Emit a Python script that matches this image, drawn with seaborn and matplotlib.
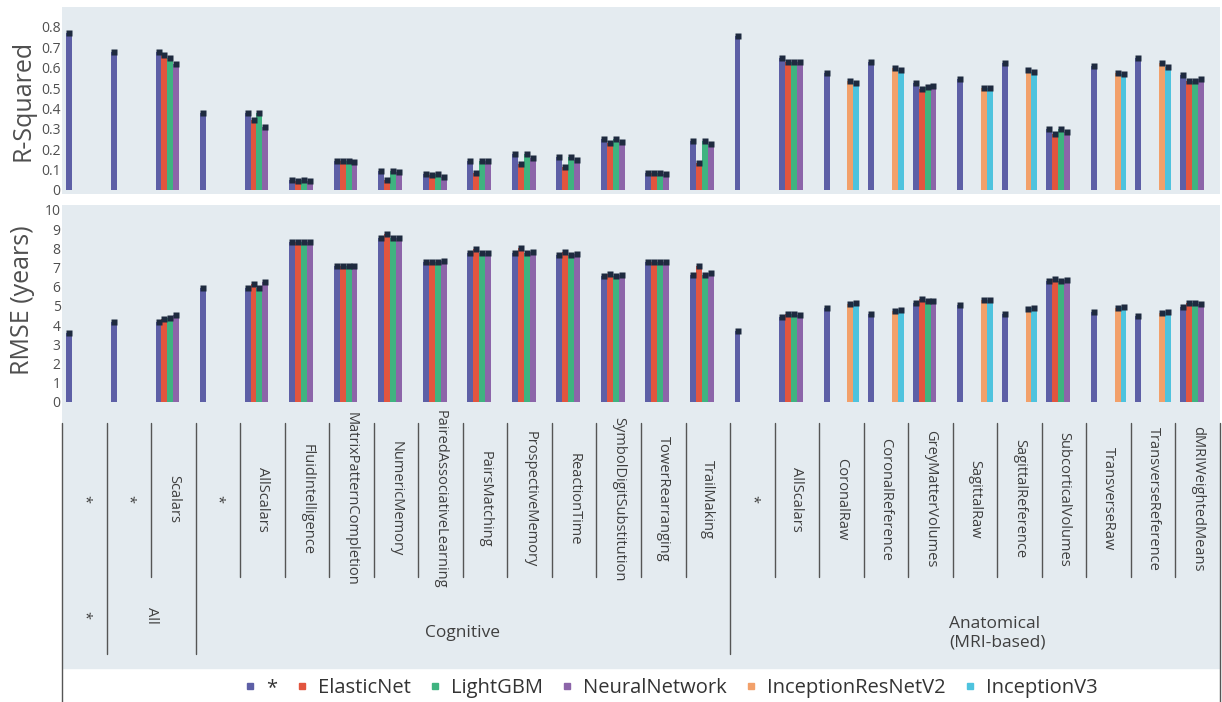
import numpy as np
import pandas as pd
import matplotlib
matplotlib.use("Agg")
import matplotlib.pyplot as plt
from matplotlib.lines import Line2D
import seaborn as sns

N = None

MODELS = ["*", "ElasticNet", "LightGBM", "NeuralNetwork", "InceptionResNetV2", "InceptionV3"]
COLORS = {
    "*": "#5d5fa6",
    "ElasticNet": "#e2553f",
    "LightGBM": "#3fb380",
    "NeuralNetwork": "#8c65a9",
    "InceptionResNetV2": "#f2a06a",
    "InceptionV3": "#4ec3de",
}

# inner level of the category axis
inner_labels = ["*", "*", "Scalars", "*", "AllScalars", "FluidIntelligence",
                "MatrixPatternCompletion", "NumericMemory", "PairedAssociativeLearning",
                "PairsMatching", "ProspectiveMemory", "ReactionTime",
                "SymbolDigitSubstitution", "TowerRearranging", "TrailMaking",
                "*", "AllScalars", "CoronalRaw", "CoronalReference", "GreyMatterVolumes",
                "SagittalRaw", "SagittalReference", "SubcorticalVolumes", "TransverseRaw",
                "TransverseReference", "dMRIWeightedMeans"]
# outer level: (label, first index, last index)
outer_groups = [("*", 0, 0), ("All", 1, 2), ("Cognitive", 3, 14),
                ("Anatomical\n(MRI-based)", 15, 25)]

r2_star = [0.77, 0.676, 0.676, 0.38, 0.38, 0.05, 0.14, 0.095, 0.078, 0.14, 0.176, 0.16, 0.25,
           0.085, 0.242, 0.756, 0.65, 0.572, 0.63, 0.523, 0.544, 0.621, 0.30, 0.608, 0.646, 0.564]
r2_en = [N, N, 0.66, N, 0.343, 0.045, 0.14, 0.05, 0.075, 0.082, 0.126, 0.114, 0.232,
         0.085, 0.13, N, 0.626, N, N, 0.495, N, N, 0.275, N, N, 0.534]
r2_lgbm = [N, N, 0.65, N, 0.38, 0.05, 0.14, 0.095, 0.078, 0.14, 0.176, 0.16, 0.25,
           0.085, 0.242, N, 0.626, N, N, 0.504, N, N, 0.30, N, N, 0.534]
r2_nn = [N, N, 0.62, N, 0.31, 0.045, 0.135, 0.09, 0.065, 0.14, 0.158, 0.147, 0.237,
         0.077, 0.224, N, 0.63, N, N, 0.512, N, N, 0.286, N, N, 0.544]
r2_irn = [N] * 17 + [0.536, 0.597, N, 0.502, 0.588, N, 0.575, 0.621, N]
r2_iv3 = [N] * 17 + [0.526, 0.59, N, 0.502, 0.58, N, 0.567, 0.604, N]

rmse_star = [3.57, 4.17, 4.17, 5.95, 5.95, 8.35, 7.08, 8.52, 7.3, 7.74, 7.74, 7.65, 6.57,
             7.27, 6.6, 3.69, 4.43, 4.9, 4.56, 5.18, 5.04, 4.59, 6.3, 4.7, 4.47, 4.96]
rmse_en = [N, N, 4.31, N, 6.12, 8.35, 7.08, 8.73, 7.3, 7.97, 8.0, 7.83, 6.66,
           7.27, 7.1, N, 4.57, N, N, 5.34, N, N, 6.4, N, N, 5.17]
rmse_lgbm = [N, N, 4.35, N, 5.95, 8.35, 7.08, 8.52, 7.3, 7.74, 7.74, 7.65, 6.57,
             7.27, 6.6, N, 4.57, N, N, 5.27, N, N, 6.3, N, N, 5.13]
rmse_nn = [N, N, 4.52, N, 6.26, 8.35, 7.08, 8.52, 7.34, 7.74, 7.83, 7.7, 6.63,
           7.3, 6.73, N, 4.52, N, N, 5.27, N, N, 6.35, N, N, 5.08]
rmse_irn = [N] * 17 + [5.1, 4.73, N, 5.3, 4.82, N, 4.87, 4.61, N]
rmse_iv3 = [N] * 17 + [5.18, 4.78, N, 5.3, 4.87, N, 4.92, 4.7, N]

r2_all = [r2_star, r2_en, r2_lgbm, r2_nn, r2_irn, r2_iv3]
rmse_all = [rmse_star, rmse_en, rmse_lgbm, rmse_nn, rmse_irn, rmse_iv3]

rows = []
for m, r2s, rms in zip(MODELS, r2_all, rmse_all):
    for i, (a, b) in enumerate(zip(r2s, rms)):
        if a is not None:
            rows.append({"pos": i, "model": m, "r2": a, "rmse": b})
df = pd.DataFrame(rows)

BG = "#e4ebf0"
CAP = "#1e2a3f"
TXT = "#4f4f4f"
LBL = "#3f3f3f"

sns.set_theme(style="white")
plt.rcParams["font.family"] = ["Open Sans", "DejaVu Sans"]

W, H = 1222, 702
fig = plt.figure(figsize=(W / 100, H / 100), dpi=100)
fig.patch.set_facecolor("white")

L, R = 62, 1220


def ax_at(top, bottom):
    return fig.add_axes([L / W, 1 - bottom / H, (R - L) / W, (bottom - top) / H])


ax1 = ax_at(7, 194)
ax2 = ax_at(205, 410)
ax3 = ax_at(410, 702)

order = list(range(len(inner_labels)))
for ax, col in [(ax1, "r2"), (ax2, "rmse")]:
    ax.set_facecolor(BG)
    sns.barplot(data=df, x="pos", y=col, hue="model", order=order, hue_order=MODELS,
                palette=COLORS, dodge=True, width=0.8, saturation=1, legend=False,
                linewidth=0, ax=ax)
    for p in ax.patches:
        h = p.get_height()
        if np.isfinite(h) and h > 0:
            ax.plot(p.get_x() + p.get_width() / 2, h, marker="s", ms=4.4, color=CAP,
                    mec="none", zorder=5)
    ax.set_xlim(-0.5, len(inner_labels) - 0.5)
    ax.set_xticks([])
    ax.set_xlabel("")
    ax.set_ylabel("")
    for s in ax.spines.values():
        s.set_visible(False)
    ax.tick_params(axis="y", length=0, pad=1, labelsize=10, labelcolor=TXT)

ax1.set_ylim(-0.02, 0.898)
ax1.set_yticks(np.arange(0, 0.81, 0.1))
ax1.set_yticklabels(["0"] + [f"{v:.1f}" for v in np.arange(0.1, 0.81, 0.1)])
ax2.set_ylim(-0.42, 10.26)
ax2.set_yticks(range(0, 11))

fig.text(23 / W, 1 - 100 / H, "R-Squared", rotation=90, ha="center", va="center",
         fontsize=18, color=TXT)
fig.text(23 / W, 1 - 300 / H, "RMSE (years)", rotation=90, ha="center", va="center",
         fontsize=18, color=TXT)

# multi-category axis
ax3.set_facecolor(BG)
ax3.set_xlim(-0.5, len(inner_labels) - 0.5)
ax3.set_ylim(702, 410)
ax3.axis("off")
ax3.add_patch(plt.Rectangle((-0.5, 410), len(inner_labels), 258, color=BG, zorder=-1))

group_edges = {0, 1, 3, 15, len(inner_labels)}
for b in range(len(inner_labels) + 1):
    x = b - 0.5
    if b in (0, len(inner_labels)):
        y1 = 702
    elif b in group_edges:
        y1 = 654
    else:
        y1 = 577
    ax3.plot([x, x], [423, y1], color="#555555", lw=1, clip_on=False, zorder=3)

for i, lab in enumerate(inner_labels):
    ax3.text(i, 499, lab, rotation=-90, ha="center", va="center", fontsize=10.5,
             color=LBL)

for lab, a, b in outer_groups:
    if b - a < 3:
        ax3.text((a + b) / 2, 615, lab, rotation=-90, ha="center", va="center",
                 fontsize=10.5, color=LBL)
    else:
        xc = (a + b) / 2 + (0.5 if "\n" in lab else 0)
        ax3.text(xc, 633, lab, ha="center", va="center", fontsize=12.5,
                 color=LBL, multialignment="left", linespacing=1.25)

handles = [Line2D([], [], marker="s", ls="none", color=COLORS[m], ms=5) for m in MODELS]
fig.legend(handles, MODELS, loc="center", bbox_to_anchor=(671 / W, 1 - 688 / H),
           ncol=6, frameon=False, fontsize=14.5, handlelength=0.6, handletextpad=0.5,
           columnspacing=0.9, labelcolor="#333333")

fig.savefig("out.png", dpi=100)
